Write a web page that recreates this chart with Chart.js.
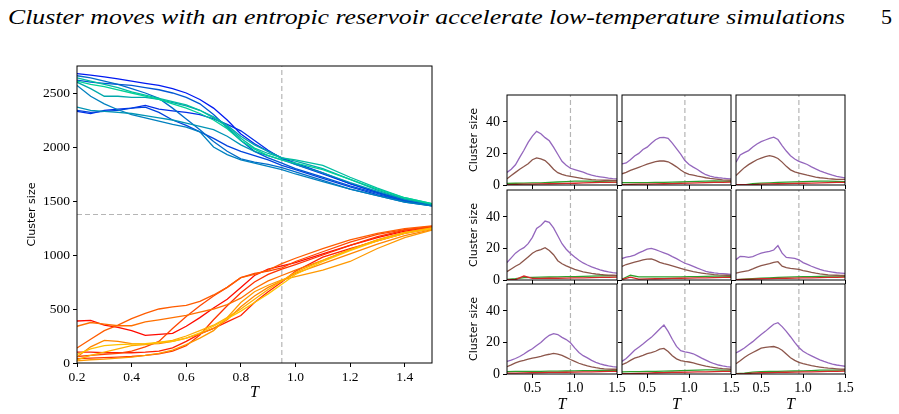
<!DOCTYPE html>
<html>
<head>
<meta charset="utf-8">
<script src="https://cdn.jsdelivr.net/npm/chart.js@4.4.1/dist/chart.umd.min.js"></script>
<style>
  body { margin: 0; width: 899px; height: 414px; background: #fff; position: relative; overflow: hidden; }
  canvas { position: absolute; }
  #title { position: absolute; left: 8px; top: 4px; font-family: 'Liberation Serif', 'DejaVu Serif', serif; font-style: italic; font-size: 22px; white-space: nowrap; transform-origin: 0 0; }
  #page { position: absolute; left: 881px; top: 4px; font-family: 'Liberation Serif', 'DejaVu Serif', serif; font-size: 22px; }
</style>
</head>
<body>
<div id="title">Cluster moves with an entropic reservoir accelerate low-temperature simulations</div>
<div id="page">5</div>
<script>
// ---- data: left panel (T grid, cool runs on top, warm runs below)
const tBig = [0.2, 0.25, 0.3, 0.35, 0.4, 0.45, 0.5, 0.55, 0.6, 0.65, 0.7, 0.75, 0.8, 0.85, 0.9, 0.95, 1.0, 1.1, 1.2, 1.3, 1.4, 1.5];

const coolRuns = [
  [2680, 2665, 2650, 2630, 2610, 2590, 2570, 2540, 2500, 2440, 2360, 2250, 2120, 2030, 1960, 1900, 1850, 1760, 1660, 1580, 1510, 1465],
  [2330, 2310, 2340, 2350, 2360, 2385, 2350, 2335, 2320, 2300, 2260, 2210, 2150, 2060, 1970, 1893, 1840, 1750, 1660, 1580, 1510, 1465],
  [2340, 2320, 2330, 2340, 2360, 2370, 2320, 2250, 2200, 2140, 2080, 2010, 1960, 1920, 1880, 1830, 1790, 1710, 1630, 1560, 1500, 1460],
  [2620, 2600, 2590, 2580, 2570, 2550, 2530, 2500, 2460, 2400, 2300, 2180, 2060, 1960, 1900, 1850, 1800, 1720, 1640, 1570, 1500, 1455],
  [2660, 2640, 2610, 2580, 2540, 2500, 2450, 2360, 2260, 2160, 2050, 1960, 1890, 1860, 1840, 1810, 1770, 1690, 1610, 1550, 1490, 1455],
  [2570, 2470, 2400, 2345, 2300, 2270, 2240, 2210, 2185, 2140, 2000, 1930, 1880, 1850, 1820, 1790, 1750, 1680, 1610, 1550, 1490, 1455],
  [2370, 2340, 2330, 2320, 2310, 2290, 2270, 2250, 2220, 2190, 2160, 2100, 2020, 1960, 1920, 1880, 1840, 1760, 1670, 1590, 1515, 1470],
  [2600, 2540, 2470, 2470, 2460, 2460, 2440, 2410, 2380, 2340, 2280, 2200, 2100, 2020, 1960, 1900, 1870, 1800, 1700, 1600, 1520, 1470],
  [2640, 2610, 2580, 2550, 2510, 2480, 2450, 2420, 2390, 2340, 2270, 2190, 2080, 1990, 1940, 1900, 1880, 1830, 1720, 1620, 1530, 1475],
  [2610, 2580, 2560, 2530, 2500, 2470, 2440, 2400, 2360, 2310, 2250, 2170, 2060, 1980, 1920, 1880, 1850, 1790, 1700, 1610, 1530, 1475]
];

const warmRuns = [
  [389, 395, 350, 330, 300, 255, 265, 275, 340, 420, 510, 590, 700, 810, 870, 900, 930, 1010, 1090, 1160, 1220, 1255],
  [100, 100, 95, 95, 95, 100, 110, 140, 200, 270, 320, 380, 440, 560, 660, 750, 850, 980, 1060, 1130, 1200, 1245],
  [40, 45, 50, 55, 60, 70, 85, 110, 160, 260, 400, 530, 650, 750, 820, 870, 910, 1000, 1090, 1170, 1230, 1260],
  [60, 70, 80, 90, 110, 150, 200, 320, 430, 530, 620, 700, 790, 830, 850, 880, 940, 1030, 1120, 1190, 1235, 1265],
  [139, 220, 300, 350, 410, 460, 500, 520, 534, 570, 630, 700, 790, 820, 860, 920, 970, 1060, 1140, 1200, 1245, 1270],
  [340, 375, 360, 345, 345, 380, 400, 420, 440, 470, 500, 540, 600, 690, 760, 810, 860, 950, 1050, 1140, 1210, 1250],
  [56, 150, 210, 200, 180, 175, 180, 200, 230, 270, 320, 400, 520, 620, 700, 760, 830, 920, 1010, 1100, 1180, 1235],
  [20, 30, 35, 45, 55, 70, 90, 120, 170, 230, 300, 420, 560, 660, 720, 770, 800, 860, 940, 1060, 1160, 1230],
  [30, 70, 100, 130, 160, 170, 190, 210, 250, 300, 350, 420, 500, 590, 680, 760, 840, 950, 1050, 1140, 1210, 1250],
  [80, 130, 160, 170, 175, 180, 190, 200, 230, 280, 340, 410, 480, 560, 640, 730, 820, 940, 1040, 1130, 1200, 1245]
];

const bigXTicks = [0.2, 0.4, 0.6, 0.8, 1.0, 1.2, 1.4];
const bigYTicks = [0, 500, 1000, 1500, 2000, 2500];
const tCritical = 0.95;
const halfSize = 1375;

// ---- data: 3x3 grid of small panels
const tSmall = [0.2, 0.25, 0.3, 0.35, 0.4, 0.45, 0.5, 0.55, 0.6, 0.65, 0.7, 0.75, 0.8, 0.85, 0.9, 0.95, 1.0, 1.05, 1.1, 1.15, 1.2, 1.25, 1.3, 1.35, 1.4, 1.45, 1.5];
const tCoarse = [0.2, 0.3, 0.4, 0.5, 0.6, 0.7, 0.8, 0.9, 1.0, 1.1, 1.2, 1.3, 1.4, 1.5];

const purplePanels = [
  [8, 10, 12.8, 17.5, 22, 27, 31, 34, 32.5, 30, 28, 24, 19.5, 15, 12.5, 10.6, 9.8, 9, 8.1, 7, 6.2, 5.6, 5.2, 4.8, 4.4, 4.1, 3.9],
  [13.4, 14, 16, 18.4, 20, 22.5, 24, 26.5, 28.7, 30, 30.2, 29.5, 26.5, 23, 19.5, 15.5, 13, 11.3, 9.8, 8, 6.5, 5.6, 5, 4.6, 4.3, 4.1, 3.9],
  [14.4, 19, 20.5, 21.8, 24, 26, 27.5, 28.5, 29.5, 30.3, 28.8, 25, 21.5, 18.5, 16.5, 15, 14, 13, 11.5, 10.2, 9, 8, 7.1, 6.2, 5.5, 5, 4.5],
  [11.1, 14, 17, 19, 20.5, 23, 27, 32.6, 34.5, 37.3, 36.5, 33, 28, 23, 19.5, 16.8, 14.5, 12.5, 10.8, 9.5, 8.3, 7.3, 6.4, 5.7, 5.1, 4.7, 4.4],
  [13.6, 14.5, 15, 15.8, 17.2, 18.3, 19.5, 20, 19.2, 18.2, 17.2, 16.2, 14.8, 13.5, 12, 10.6, 9.7, 8.6, 7.5, 6.5, 5.5, 4.9, 4.5, 4.2, 4, 3.8, 3.6],
  [12.9, 15, 14.8, 14.3, 14.8, 16, 17, 17.6, 18.2, 19, 21.8, 17, 14.3, 14, 13.7, 12.8, 11, 9.9, 8.7, 7.7, 6.8, 6, 5.4, 5, 4.6, 4.4, 4.2],
  [8, 8.8, 9.8, 11.1, 12.7, 14.5, 16, 18, 20, 22.5, 24.5, 25.6, 25, 23.2, 21.8, 19.8, 16.5, 13.6, 11.6, 10.2, 8.6, 7.4, 6.4, 5.7, 5.1, 4.7, 4.4],
  [8, 9.8, 12.4, 15, 17, 19, 21.2, 23.2, 25.8, 28.5, 31, 27, 22, 17.5, 14.8, 14, 13.5, 12.8, 11.5, 10.1, 8.8, 7.5, 6.5, 5.7, 5.1, 4.7, 4.4],
  [13.3, 14.8, 16.5, 18.5, 20.5, 22.8, 25, 27, 29.3, 31.5, 32.5, 30, 27, 23.6, 20, 16.8, 14.4, 12.8, 11.5, 10.2, 9, 8, 7.1, 6.3, 5.7, 5.3, 4.9]
];

const brownPanels = [
  [3.9, 6, 8, 10, 11.7, 13.5, 16, 17.2, 16.5, 15.5, 13, 10, 7.8, 6.8, 6, 5.4, 5, 4.5, 4, 3.7, 3.4, 3.2, 3.1, 3, 3, 2.9, 2.9],
  [7.1, 8, 9.2, 10.2, 11.2, 12.2, 13.2, 14, 14.8, 15.2, 15.2, 14.7, 13.2, 11.5, 9.5, 7.8, 6.8, 6.2, 5.6, 5.1, 4.6, 4.2, 3.9, 3.6, 3.3, 3.1, 3],
  [6, 8.5, 11, 12.9, 14.5, 16, 17, 18, 18.6, 18, 16.8, 14.5, 11.8, 9.6, 8.3, 7.5, 6.9, 6.2, 5.6, 5, 4.6, 4.3, 4, 3.8, 3.6, 3.5, 3.5],
  [5.3, 7, 8.7, 10.1, 12.3, 14.6, 17, 18.5, 19.3, 20.5, 18.7, 16, 12.2, 10.3, 9, 7.8, 6.8, 6, 5.2, 4.7, 4.2, 3.8, 3.5, 3.3, 3.1, 3, 2.9],
  [8.6, 9.8, 10.6, 11.3, 12, 12.7, 13.2, 13.3, 12.4, 11.2, 10.4, 9.7, 9, 8.2, 7.3, 6.5, 5.9, 5.3, 4.8, 4.4, 4, 3.7, 3.4, 3.2, 3.1, 3, 2.9],
  [4.4, 5, 5.5, 6, 7, 8.2, 9.1, 9.8, 10.4, 11.1, 11.6, 8.8, 7.8, 7.4, 7.1, 6.7, 6, 5.4, 4.8, 4.3, 3.9, 3.6, 3.3, 3.1, 3, 2.9, 2.9],
  [4.7, 5.8, 7, 8, 8.6, 9.4, 10, 10.6, 11.2, 12, 12.5, 13.1, 12.6, 11.8, 10.5, 9.2, 8, 6.8, 5.9, 5.1, 4.5, 4, 3.6, 3.3, 3.1, 3, 3],
  [5.9, 7, 8.6, 10, 10.8, 11.8, 12.9, 13.6, 14.4, 15.8, 16.2, 14.3, 11.6, 9.6, 8.5, 8, 7.6, 7, 6.3, 5.6, 5, 4.5, 4.1, 3.7, 3.4, 3.2, 3],
  [6.5, 8.4, 10.5, 12.2, 13.6, 15, 16.4, 16.9, 17.2, 17.4, 16.6, 15, 12.6, 10.3, 8.6, 7.4, 6.6, 5.9, 5.3, 4.8, 4.4, 4, 3.7, 3.5, 3.3, 3.1, 3]
];

const greenPanels = [
  [1.0, 1.1, 1.2, 1.3, 1.4, 1.6, 1.9, 2.2, 2.4, 2.5, 2.4, 2.2, 2.0, 1.8],
  [1.5, 1.5, 1.5, 1.5, 1.6, 1.7, 1.8, 1.9, 2.1, 2.3, 2.5, 2.6, 2.5, 2.3],
  [0, 0, 0.8, 1.2, 1.4, 1.6, 1.8, 2.0, 2.1, 2.3, 2.4, 2.4, 2.3, 2.2],
  [0.3, 0.8, 1.5, 1.7, 1.8, 1.9, 2.0, 2.1, 2.2, 2.3, 2.5, 2.6, 2.7, 2.6],
  [0.5, 3.0, 2.0, 2.0, 2.0, 2.0, 2.0, 2.0, 2.1, 2.2, 2.3, 2.4, 2.4, 2.3],
  [0.2, 0.5, 0.9, 1.2, 1.4, 1.6, 1.8, 2.0, 2.1, 2.2, 2.3, 2.4, 2.4, 2.3],
  [1.5, 1.6, 1.6, 1.7, 1.7, 1.8, 1.8, 1.9, 2.0, 2.1, 2.2, 2.3, 2.3, 2.2],
  [1.4, 1.5, 1.5, 1.6, 1.7, 1.8, 1.9, 2.1, 2.3, 2.5, 2.6, 2.6, 2.5, 2.4],
  [0.2, 0.6, 1.2, 1.5, 1.6, 1.7, 1.8, 1.9, 2.0, 2.2, 2.4, 2.5, 2.5, 2.4]
];

const redPanels = [
  [0.3, 0.4, 0.5, 0.6, 0.7, 0.8, 0.9, 1.0, 1.1, 1.3, 1.5, 1.6, 1.7, 1.8],
  [0.3, 0.4, 0.5, 0.6, 0.7, 0.8, 0.9, 1.0, 1.2, 1.3, 1.5, 1.6, 1.7, 1.8],
  [0.2, 0.2, 0.3, 0.5, 0.7, 0.8, 0.9, 1.0, 1.1, 1.2, 1.4, 1.5, 1.6, 1.7],
  [0.2, 0.3, 2.5, 1.0, 1.0, 1.1, 1.1, 1.2, 1.3, 1.4, 1.5, 1.6, 1.7, 1.8],
  [0.3, 1.8, 0.6, 0.7, 0.8, 0.9, 1.0, 1.1, 1.2, 1.3, 1.4, 1.5, 1.6, 1.7],
  [0.2, 0.4, 0.6, 0.8, 0.9, 1.0, 1.1, 1.2, 1.3, 1.4, 1.5, 1.6, 1.7, 1.8],
  [0.5, 0.6, 0.7, 0.8, 0.9, 1.0, 1.0, 1.1, 1.2, 1.3, 1.4, 1.5, 1.6, 1.6],
  [0.2, 0.3, 0.4, 0.6, 0.8, 0.9, 1.0, 1.1, 1.2, 1.3, 1.4, 1.5, 1.6, 1.7],
  [0.1, 0.2, 0.5, 0.8, 0.9, 1.0, 1.1, 1.2, 1.3, 1.4, 1.5, 1.6, 1.7, 1.8]
];

const smallXTicks = [0.5, 1.0, 1.5];
const smallYTicks = [0, 20, 40];
const smallYMax = 57;

// ---- drawing helpers
const SERIF = "'Liberation Serif', 'DejaVu Serif', serif";
const SANS = "'DejaVu Sans', sans-serif";
Chart.defaults.font.family = SERIF;
Chart.defaults.color = '#000';

// squeeze the running head to the width it takes in the reference
const titleEl = document.getElementById('title');
const titleW = titleEl.getBoundingClientRect().width;
titleEl.style.transform = 'scaleX(' + (837 / titleW) + ')';

const framePlugin = {
  id: 'frame',
  afterDatasetsDraw(chart) {
    const { ctx, chartArea: a } = chart;
    ctx.save();
    ctx.strokeStyle = '#000';
    ctx.lineWidth = 1;
    ctx.strokeRect(a.left, a.top, a.right - a.left, a.bottom - a.top);
    ctx.restore();
  }
};

function winter(i, n) {
  const t = 0.1 + 0.72 * i / (n - 1);
  return `rgb(0, ${Math.round(255 * t)}, ${Math.round(255 * (1 - t / 2))})`;
}
function autumn(i, n) {
  const t = 0.04 + 0.72 * i / (n - 1);
  return `rgb(255, ${Math.round(255 * t)}, 0)`;
}

function toPoints(xs, ys) {
  return ys.map((y, j) => ({ x: xs[j], y: y }));
}

function lineSet(points, color, width, order) {
  return { data: points, borderColor: color, borderWidth: width, pointRadius: 0, tension: 0, fill: false, order: order };
}

function dashSet(points) {
  return { data: points, borderColor: '#b5b5b5', borderWidth: 1.2, borderDash: [5, 3], pointRadius: 0, tension: 0, order: 100 };
}

function makeCanvas(left, top, w, h) {
  const c = document.createElement('canvas');
  c.width = w; c.height = h;
  c.style.left = left + 'px'; c.style.top = top + 'px';
  c.style.width = w + 'px'; c.style.height = h + 'px';
  document.body.appendChild(c);
  return c;
}

function xAxis(min, max, tickVals, height, showLabels, fontSize, titlePad) {
  return {
    type: 'linear', min: min, max: max,
    afterBuildTicks: s => { s.ticks = tickVals.map(v => ({ value: v })); },
    afterFit: s => { s.height = height; s.paddingLeft = 0; s.paddingRight = 0; },
    grid: { drawOnChartArea: false, drawTicks: true, tickLength: 4, color: '#000' },
    border: { display: false },
    ticks: { display: showLabels, autoSkip: false, maxRotation: 0, padding: 2, font: { family: SERIF, size: fontSize }, callback: v => v.toFixed(1) },
    title: { display: showLabels, text: 'T', font: { family: SERIF, style: 'italic', size: 16 }, padding: { top: 0, bottom: titlePad } }
  };
}

function yAxis(min, max, tickVals, width, showLabels, fontSize, titlePad) {
  return {
    type: 'linear', min: min, max: max,
    afterBuildTicks: s => { s.ticks = tickVals.map(v => ({ value: v })); },
    afterFit: s => { s.width = width; s.paddingTop = 0; s.paddingBottom = 0; },
    grid: { drawOnChartArea: false, drawTicks: true, tickLength: 4, color: '#000' },
    border: { display: false },
    ticks: { display: showLabels, autoSkip: false, padding: 3, font: { family: SERIF, size: fontSize }, callback: v => String(v) },
    title: { display: showLabels, text: 'Cluster size', font: { family: SANS, size: 11 }, padding: { top: titlePad, bottom: 0 } }
  };
}

// ---- left panel
const bigSets = [];
coolRuns.forEach((run, i) => bigSets.push(lineSet(toPoints(tBig, run), winter(i, coolRuns.length), 1.3, 50 - i)));
warmRuns.forEach((run, i) => bigSets.push(lineSet(toPoints(tBig, run), autumn(i, warmRuns.length), 1.3, 30 - i)));
bigSets.push(dashSet([{ x: tCritical, y: 0 }, { x: tCritical, y: 2750 }]));
bigSets.push(dashSet([{ x: 0.2, y: halfSize }, { x: 1.5, y: halfSize }]));

new Chart(makeCanvas(0, 50, 440, 364), {
  type: 'line',
  data: { datasets: bigSets },
  options: {
    responsive: false, animation: false,
    layout: { padding: { top: 16, right: 8, left: 0, bottom: 0 } },
    plugins: { legend: { display: false }, tooltip: { enabled: false } },
    scales: {
      x: xAxis(0.2, 1.5, bigXTicks, 51, true, 13.5, 12),
      y: yAxis(0, 2750, bigYTicks, 77, true, 13.5, 26)
    }
  },
  plugins: [framePlugin]
});

// ---- 3x3 grid
const colLeft = [507, 622, 736];
const colWidth = [110, 109, 109];
const rowTop = [95, 190, 284];
const rowHeight = 90;

for (let r = 0; r < 3; r++) {
  for (let c = 0; c < 3; c++) {
    const k = r * 3 + c;
    const ml = c === 0 ? 50 : 8;
    const mt = 6, mr = 12;
    const mb = r === 2 ? 40 : 6;
    const sets = [
      lineSet(toPoints(tCoarse, greenPanels[k]), '#2ca02c', 1.3, 4),
      lineSet(toPoints(tCoarse, redPanels[k]), '#d62728', 1.3, 3),
      lineSet(toPoints(tSmall, purplePanels[k]), '#9467bd', 1.3, 2),
      lineSet(toPoints(tSmall, brownPanels[k]), '#8c564b', 1.3, 1),
      dashSet([{ x: tCritical, y: 0 }, { x: tCritical, y: smallYMax }])
    ];
    new Chart(makeCanvas(colLeft[c] - ml, rowTop[r] - mt, ml + colWidth[c] + mr, mt + rowHeight + mb), {
      type: 'line',
      data: { datasets: sets },
      options: {
        responsive: false, animation: false,
        layout: { padding: { top: mt, right: mr, left: 0, bottom: 0 } },
        plugins: { legend: { display: false }, tooltip: { enabled: false } },
        scales: {
          x: xAxis(0.2, 1.5, smallXTicks, mb, r === 2, 14, 0),
          y: yAxis(0, smallYMax, smallYTicks, ml, c === 0, 14, 11)
        }
      },
      plugins: [framePlugin]
    });
  }
}
</script>
</body>
</html>
